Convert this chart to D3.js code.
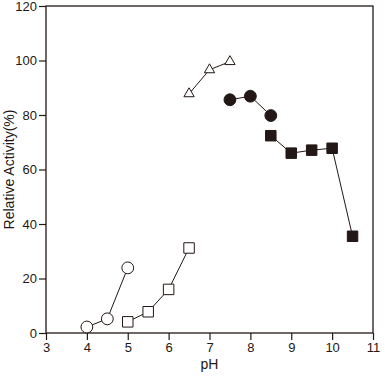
<!DOCTYPE html>
<html><head><meta charset="utf-8">
<script src="https://cdn.jsdelivr.net/npm/d3@7"></script>
<style>body{margin:0;background:#fff}svg{display:block}text{font-family:"Liberation Sans",Arial,sans-serif;fill:#231815}</style>
</head><body>
<script>
const xTicks = [3,4,5,6,7,8,9,10,11];
const yTicks = [0,20,40,60,80,100,120];
const openCircleX = [4, 4.5, 5];
const openCircleY = [2.2, 5.2, 23.9];
const openSquareX = [5, 5.5, 6, 6.5];
const openSquareY = [4.1, 7.8, 16.0, 31.2];
const triangleX = [6.5, 7, 7.5];
const triangleY = [87.8, 96.6, 99.6];
const filledCircleX = [7.5, 8, 8.5];
const filledCircleY = [85.6, 86.9, 79.8];
const filledSquareX = [8.5, 9, 9.5, 10, 10.5];
const filledSquareY = [72.4, 66.0, 67.1, 67.8, 35.5];

const W=385,H=380, m={l:46,t:6,r:12,b:47};
const ink="#231815";
const svg=d3.select("body").append("svg").attr("width",W).attr("height",H);
const x=d3.scaleLinear().domain([3,11]).range([m.l,W-m.r]);
const y=d3.scaleLinear().domain([0,120]).range([H-m.b,m.t]);

svg.append("g").attr("transform",`translate(0,${H-m.b})`)
  .call(d3.axisBottom(x).tickValues(xTicks).tickFormat(d3.format("d")).tickSize(7).tickPadding(3))
  .call(g=>{g.select(".domain").remove();g.selectAll("line").attr("stroke",ink).attr("stroke-width",1.2);g.selectAll("text").attr("font-size",13).attr("fill",ink).style("font-family","'Liberation Sans',Arial,sans-serif");});
svg.append("g").attr("transform",`translate(${m.l},0)`)
  .call(d3.axisLeft(y).tickValues(yTicks).tickSize(7).tickPadding(2))
  .call(g=>{g.select(".domain").remove();g.selectAll("line").attr("stroke",ink).attr("stroke-width",1.2);g.selectAll("text").attr("font-size",13).attr("fill",ink).style("font-family","'Liberation Sans',Arial,sans-serif");});
svg.append("rect").attr("x",x(3)).attr("y",y(120)).attr("width",x(11)-x(3)).attr("height",y(0)-y(120))
  .attr("fill","none").attr("stroke",ink).attr("stroke-width",1.3);

svg.append("text").attr("x",x(7)).attr("y",369).attr("text-anchor","middle").attr("font-size",14).text("pH");
svg.append("text").attr("transform",`translate(14,${(y(0)+y(120))/2}) rotate(-90)`).attr("text-anchor","middle").attr("font-size",14).text("Relative Activity(%)");

const line=d3.line().x(d=>x(d[0])).y(d=>y(d[1]));
function series(xs,ys,shape,filled){
  const pts=xs.map((v,i)=>[v,ys[i]]);
  svg.append("path").attr("d",line(pts)).attr("fill","none").attr("stroke",ink).attr("stroke-width",1);
  const sym = shape==="circle"?d3.symbolCircle:shape==="square"?d3.symbolSquare:d3.symbolTriangle;
  const size = shape==="circle"?110:shape==="square"?110:46;
  svg.append("g").selectAll("path").data(pts).join("path")
    .attr("transform",d=>`translate(${x(d[0])},${y(d[1])})`)
    .attr("d",d3.symbol(sym,size))
    .attr("fill",filled?ink:"#fff").attr("stroke",ink).attr("stroke-width",1);
}
series(openCircleX,openCircleY,"circle",false);
series(openSquareX,openSquareY,"square",false);
series(triangleX,triangleY,"triangle",false);
series(filledCircleX,filledCircleY,"circle",true);
series(filledSquareX,filledSquareY,"square",true);
</script>
</body></html>
